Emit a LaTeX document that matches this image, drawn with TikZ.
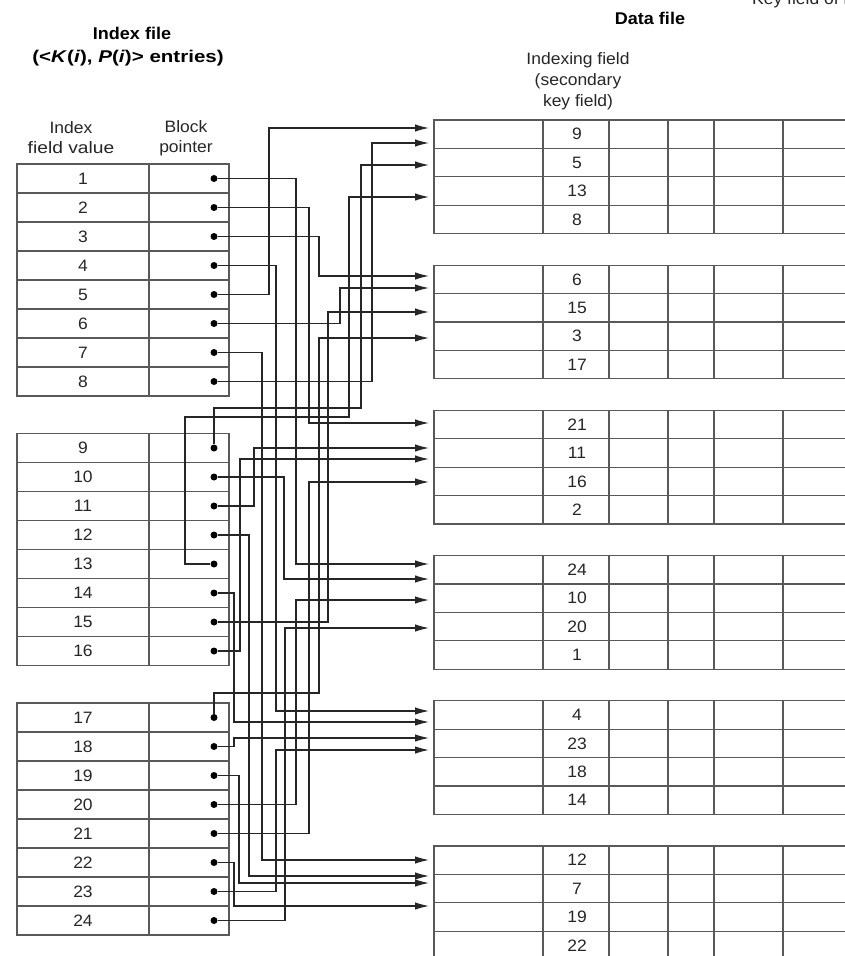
\documentclass[tikz,border=0pt]{standalone}
\usepackage{graphicx}
\usepackage{fontspec}
\setmainfont{Liberation Sans}[FakeStretch=1.06]
\usetikzlibrary{arrows.meta}
\begin{document}
\begin{tikzpicture}[x=1pt,y=-1pt,
  tbl/.style={draw=black!65, line width=1.1pt},
  ptr/.style={draw=black!85, line width=1.2pt},
  arr/.style={ptr, -{Latex[length=14pt,width=7.5pt]}},
  dot/.style={circle, fill=black, inner sep=0pt, minimum size=7pt},
  txt/.style={font=\fontsize{16.5}{20}\selectfont, inner sep=0pt, text=black!85},
  hdr/.style={font=\bfseries\fontsize{17}{25}\selectfont, inner sep=0pt, align=center},
  lbl/.style={font=\fontsize{16.5}{20}\selectfont, inner sep=0pt, align=center, text=black!85},
]
\useasboundingbox (0,0) rectangle (844,956);

% headers
\node[hdr] (hidx) at (132,33) {Index file};
\node[hdr] (hidx2) at (128,58) {\scalebox{1.14}[1]{(<\textit{K}(\textit{i}), \textit{P}(\textit{i})> entries)}};
\node[lbl] (hval) at (71,138) {Index\\\scalebox{1.1}[1]{field value}};
\node[lbl] (hptr) at (186,138) {Block\\pointer};
\node[hdr] (hdata) at (650,18) {Data file};
\node[lbl, font=\fontsize{16.5}{21}\selectfont] (hkey) at (578,81) {Indexing field\\(secondary\\key field)};
\node[lbl, anchor=base west] (hrec) at (752,4) {Key field of record};

% index file blocks
\foreach \t/\top in {0/164,1/433.5,2/703} {
  \draw[tbl] (17,\top) rectangle (229,\top+232);
  \draw[tbl] (149,\top) -- (149,\top+232);
  \foreach \r in {1,...,7} \draw[tbl] (17,\top+29*\r) -- (229,\top+29*\r);
  \foreach \r in {0,...,7} {
    \pgfmathtruncatemacro\k{8*\t+\r+1}
    \node[txt] (v\k) at (83,\top+14.5+29*\r) {\k};
    \node[dot] (d\k) at (214,\top+14.5+29*\r) {};
  }
}

% data file blocks
\foreach \b/\ka/\kb/\kc/\kd in {0/9/5/13/8, 1/6/15/3/17, 2/21/11/16/2, 3/24/10/20/1, 4/4/23/18/14, 5/12/7/19/22} {
  \pgfmathsetmacro\top{120+145.2*\b}
  \draw[tbl] (870,\top) -- (434,\top) -- (434,\top+113.6) -- (870,\top+113.6);
  \foreach \r in {1,2,3} \draw[tbl] (434,\top+28.4*\r) -- (870,\top+28.4*\r);
  \foreach \c in {543,609,668,714,783} \draw[tbl] (\c,\top) -- (\c,\top+113.6);
  \foreach \kk [count=\r from 0] in {\ka,\kb,\kc,\kd}
    \node[txt] (r\kk) at (577,\top+14.2+28.4*\r) {\kk};
}

% arrow targets
\foreach \k/\yy in {1/564,2/423,3/276,4/711,5/128,6/288,7/860,8/143,9/165,10/579,11/448,12/876,
                    13/197,14/722,15/312,16/459,17/338,18/738,19/883,20/600,21/482,22/906,23/750,24/628}
  \coordinate (t\k) at (429,\yy);

% pointers
\foreach \k/\xx in {1/296,2/309,3/319,4/276,5/269,6/340,7/262,8/372,10/284,11/254,12/249,14/234,
                    15/328,16/240,18/234,19/239,20/296,21/309,22/234,23/276,24/285}
  \draw[arr] (d\k) -| (\xx,0 |- t\k) -- (t\k);
\draw[arr] (d9) |- (361,408) |- (t9);
\draw[arr] (d13) -| (185,417) -- (349,417) |- (t13);
\draw[arr] (d17) |- (319,693) |- (t17);
\end{tikzpicture}
\end{document}
